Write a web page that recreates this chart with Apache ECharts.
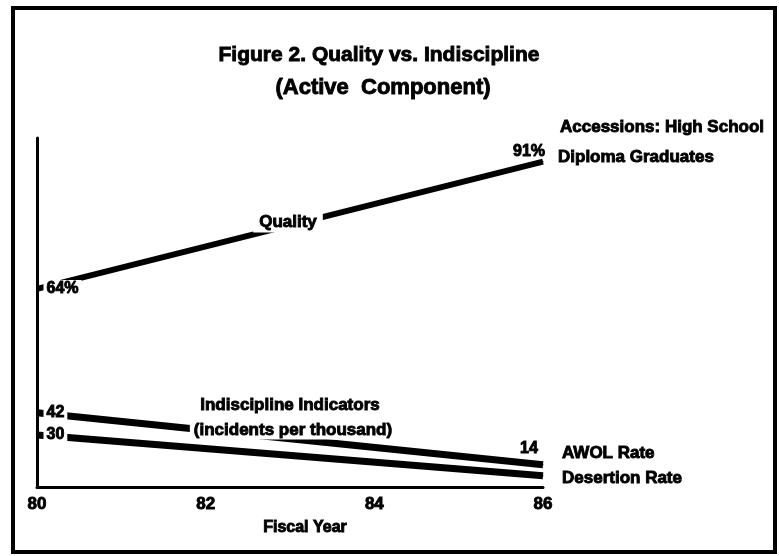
<!DOCTYPE html>
<html>
<head>
<meta charset="utf-8">
<script src="https://cdn.jsdelivr.net/npm/echarts@6/dist/echarts.min.js"></script>
<style>
  html, body { margin: 0; padding: 0; background: #fff; }
  #chart { width: 779px; height: 556px; }
</style>
</head>
<body>
<div id="chart"></div>
<script>
// fiscal years shown on the x axis
const years = [80, 86]
const yearTicks = ['80', '82', '84', '86']
// accessions: high school diploma graduates (%)
const quality = [64, 91]
// indiscipline indicators, incidents per thousand
const awolRate = [42, 14]
const desertionRate = [30, 8]

// text style for series / axis labels
const bold = { fontFamily: 'Liberation Sans', fontWeight: 'bold', color: '#000', textBorderColor: '#000', textBorderWidth: 0.9 }
// text style for graphic texts
const gbold = { fontFamily: 'Liberation Sans', fontWeight: 'bold', fill: '#000', stroke: '#000', lineWidth: 0.9 }

const chart = echarts.init(document.getElementById('chart'))

// label only the ends that the figure labels
function endLabels(values, first, last, lastDy) {
  return values.map((v, i) => {
    const p = { value: [years[i], v] }
    if (i === 0 && first) p.label = Object.assign({ show: true, formatter: first, fontSize: 16, position: 'right', distance: 6, backgroundColor: '#fff', padding: [1, 3] }, bold)
    if (i === values.length - 1 && last) p.label = Object.assign({ show: true, formatter: last, fontSize: 16, position: 'top', offset: [-14, lastDy] }, bold)
    return p
  })
}

function lineSeries(name, axis, width, data) {
  return {
    name: name,
    type: 'line',
    yAxisIndex: axis,
    symbol: 'circle',
    symbolSize: 1,
    itemStyle: { color: '#000' },
    lineStyle: { color: '#000', width: width },
    data: data
  }
}

const option = {
  animation: false,
  grid: { left: 37, right: 236, top: 138, bottom: 69 },
  xAxis: {
    type: 'value',
    min: 80,
    max: 86,
    interval: 2,
    splitLine: { show: false },
    axisTick: { show: false },
    axisLine: { lineStyle: { color: '#000', width: 3 } },
    axisLabel: Object.assign({ margin: 9, fontSize: 17, formatter: v => yearTicks[(v - 80) / 2] }, bold),
    name: 'Fiscal Year',
    nameLocation: 'middle',
    nameGap: 33,
    nameTextStyle: Object.assign({ fontSize: 16, padding: [0, 0, 0, 30] }, bold)
  },
  yAxis: [
    { type: 'value', min: 22, max: 96, splitLine: { show: false }, axisLabel: { show: false }, axisTick: { show: false }, axisLine: { show: true, lineStyle: { color: '#000', width: 3 } } },
    { type: 'value', min: 2, max: 190, show: false, splitLine: { show: false } }
  ],
  series: [
    lineSeries('Quality', 0, 6, endLabels(quality, '64%', '91%', 4)),
    lineSeries('AWOL Rate', 1, 7, endLabels(awolRate, '42', '14', -3)),
    lineSeries('Desertion Rate', 1, 7, endLabels(desertionRate, '30', null, 0))
  ],
  graphic: [
    { type: 'rect', shape: { x: 13, y: 8, width: 762, height: 544 }, style: { fill: 'none', stroke: '#000', lineWidth: 4 }, silent: true },
    { type: 'text', x: 379, y: 55, style: Object.assign({ text: 'Figure 2. Quality vs. Indiscipline', fontSize: 21, textAlign: 'center', textVerticalAlign: 'middle' }, gbold) },
    { type: 'text', x: 383, y: 88, style: Object.assign({ text: '(Active  Component)', fontSize: 22, textAlign: 'center', textVerticalAlign: 'middle' }, gbold) },
    { type: 'text', x: 560, y: 127, style: Object.assign({ text: 'Accessions: High School', fontSize: 17, textVerticalAlign: 'middle' }, gbold) },
    { type: 'text', x: 558, y: 157, style: Object.assign({ text: 'Diploma Graduates', fontSize: 17, textVerticalAlign: 'middle' }, gbold) },
    { type: 'text', x: 288, y: 222, z: 10, style: Object.assign({ text: 'Quality', fontSize: 17, textAlign: 'center', textVerticalAlign: 'middle', backgroundColor: '#fff', padding: [2, 6] }, gbold) },
    { type: 'text', x: 290, y: 405, z: 10, style: Object.assign({ text: 'Indiscipline Indicators', fontSize: 17, textAlign: 'center', textVerticalAlign: 'middle', backgroundColor: '#fff', padding: [1, 4] }, gbold) },
    { type: 'text', x: 293, y: 430, z: 10, style: Object.assign({ text: '(incidents per thousand)', fontSize: 17, textAlign: 'center', textVerticalAlign: 'middle', backgroundColor: '#fff', padding: [1, 4] }, gbold) },
    { type: 'text', x: 562, y: 453, style: Object.assign({ text: 'AWOL Rate', fontSize: 17, textVerticalAlign: 'middle' }, gbold) },
    { type: 'text', x: 562, y: 478, style: Object.assign({ text: 'Desertion Rate', fontSize: 17, textVerticalAlign: 'middle' }, gbold) }
  ]
}

chart.setOption(option)
</script>
</body>
</html>
